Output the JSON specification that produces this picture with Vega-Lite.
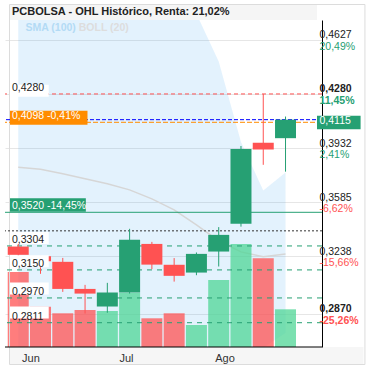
{
  "$schema": "https://vega.github.io/schema/vega-lite/v6.json",
  "width": 317,
  "height": 327,
  "autosize": {"type": "none"},
  "padding": {"left": 5, "top": 20, "right": 54, "bottom": 23},
  "background": "white",
  "config": {
    "view": {"stroke": null},
    "font": "Liberation Sans",
    "locale": {
      "number": {"decimal": ",", "thousands": ".", "grouping": [3], "currency": ["", " €"], "minus": "-"},
      "time": {"dateTime": "%A, %e de %B de %Y, %X", "date": "%d/%m/%Y", "time": "%H:%M:%S", "periods": ["AM", "PM"],
        "days": ["domingo", "lunes", "martes", "miércoles", "jueves", "viernes", "sábado"],
        "shortDays": ["dom", "lun", "mar", "mié", "jue", "vie", "sáb"],
        "months": ["enero", "febrero", "marzo", "abril", "mayo", "junio", "julio", "agosto", "septiembre", "octubre", "noviembre", "diciembre"],
        "shortMonths": ["Ene", "Feb", "Mar", "Abr", "May", "Jun", "Jul", "Ago", "Sep", "Oct", "Nov", "Dic"]}
    }
  },
  "datasets": {
    "candles": [
      {"date": "2020-05-28", "open": 0.3300, "high": 0.3318, "low": 0.3236, "close": 0.3247, "volume": 1500000},
      {"date": "2020-06-04", "open": 0.3238, "high": 0.3240, "low": 0.3125, "close": 0.3205, "volume": 806000},
      {"date": "2020-06-11", "open": 0.3202, "high": 0.3227, "low": 0.3009, "close": 0.3028, "volume": 674000},
      {"date": "2020-06-18", "open": 0.3028, "high": 0.3054, "low": 0.2870, "close": 0.2998, "volume": 740000},
      {"date": "2020-06-25", "open": 0.2915, "high": 0.3067, "low": 0.2875, "close": 0.3005, "volume": 720000},
      {"date": "2020-07-02", "open": 0.3005, "high": 0.3414, "low": 0.2998, "close": 0.3343, "volume": 1086000},
      {"date": "2020-07-09", "open": 0.3317, "high": 0.3330, "low": 0.3155, "close": 0.3184, "volume": 574000},
      {"date": "2020-07-16", "open": 0.3183, "high": 0.3226, "low": 0.3075, "close": 0.3112, "volume": 674000},
      {"date": "2020-07-23", "open": 0.3133, "high": 0.3262, "low": 0.3116, "close": 0.3253, "volume": 440000},
      {"date": "2020-07-30", "open": 0.3268, "high": 0.3425, "low": 0.3172, "close": 0.3375, "volume": 1340000},
      {"date": "2020-08-06", "open": 0.3446, "high": 0.3946, "low": 0.3428, "close": 0.3927, "volume": 2060000},
      {"date": "2020-08-13", "open": 0.3966, "high": 0.4280, "low": 0.3825, "close": 0.3923, "volume": 1774000},
      {"date": "2020-08-20", "open": 0.3996, "high": 0.4135, "low": 0.3781, "close": 0.4115, "volume": 754000}
    ],
    "bands": [
      {"date": "2020-05-28", "upper": 0.520, "lower": 0.215, "sma": 0.3809},
      {"date": "2020-06-04", "upper": 0.516, "lower": 0.218, "sma": 0.3796},
      {"date": "2020-06-11", "upper": 0.512, "lower": 0.222, "sma": 0.3767},
      {"date": "2020-06-18", "upper": 0.508, "lower": 0.226, "sma": 0.3735},
      {"date": "2020-06-25", "upper": 0.504, "lower": 0.230, "sma": 0.3703},
      {"date": "2020-07-02", "upper": 0.501, "lower": 0.234, "sma": 0.3664},
      {"date": "2020-07-09", "upper": 0.497, "lower": 0.238, "sma": 0.3606},
      {"date": "2020-07-16", "upper": 0.491, "lower": 0.242, "sma": 0.3536},
      {"date": "2020-07-23", "upper": 0.4795, "lower": 0.246, "sma": 0.3439},
      {"date": "2020-07-30", "upper": 0.4489, "lower": 0.250, "sma": 0.3337},
      {"date": "2020-08-06", "upper": 0.3972, "lower": 0.256, "sma": 0.3266},
      {"date": "2020-08-13", "upper": 0.3660, "lower": 0.2650, "sma": 0.3234},
      {"date": "2020-08-20", "upper": 0.3775, "lower": 0.2745, "sma": 0.3253}
    ],
    "rightLevels": [
      {"v": 0.4627, "pct": 0.2049},
      {"v": 0.4280, "pct": 0.1145},
      {"v": 0.3932, "pct": 0.0241},
      {"v": 0.3585, "pct": -0.0662},
      {"v": 0.3238, "pct": -0.1566},
      {"v": 0.2870, "pct": -0.2526}
    ],
    "whiteLevels": [
      {"v": 0.4280},
      {"v": 0.3304},
      {"v": 0.3150},
      {"v": 0.2970},
      {"v": 0.2811}
    ],
    "months": [
      {"month": "2020-06-01"},
      {"month": "2020-07-01"},
      {"month": "2020-08-01"}
    ]
  },
  "layer": [
    {
      "data": {"name": "bands"},
      "mark": {"type": "area", "color": "#2196f3", "opacity": 0.125, "clip": true},
      "encoding": {
        "x": {"field": "date", "type": "temporal",
          "scale": {"type": "utc", "domain": [{"year": 2020, "month": 5, "date": 25, "hours": 9, "minutes": 55, "utc": true}, {"year": 2020, "month": 8, "date": 29, "hours": 21, "minutes": 22, "utc": true}]},
          "axis": {"title": null, "orient": "bottom", "values": [{"year": 2020, "month": 6, "date": 1, "utc": true}, {"year": 2020, "month": 7, "date": 1, "utc": true}, {"year": 2020, "month": 8, "date": 1, "utc": true}],
            "labels": false, "ticks": false, "domain": false, "gridColor": "#e6e6e6", "grid": true}},
        "y": {"field": "upper", "type": "quantitative",
          "scale": {"domain": [0.2655, 0.4755], "zero": false, "nice": false},
          "axis": {"title": null, "orient": "right", "offset": 0, "values": [0.4627, 0.428, 0.3932, 0.3585, 0.3238, 0.287],
            "labels": false, "ticks": false, "domainColor": "#000000", "gridColor": "#e6e6e6", "grid": true}},
        "y2": {"field": "lower"}
      }
    },
    {
      "data": {"name": "bands"},
      "mark": {"type": "line", "color": "#d6d6d6", "strokeWidth": 1.5},
      "encoding": {
        "x": {"field": "date", "type": "temporal", "axis": null},
        "y": {"field": "sma", "type": "quantitative", "scale": {"domain": [0.2655, 0.4755], "zero": false, "nice": false}, "axis": null}
      }
    },
    {
      "data": {"name": "candles"},
      "mark": {"type": "bar", "opacity": 0.75},
      "encoding": {
        "x": {"field": "date", "type": "temporal", "axis": null},
        "y": {"field": "volume", "type": "quantitative", "scale": {"domain": [0, 6540000], "nice": false}, "axis": null},
        "size": {"value": 21},
        "color": {"condition": {"test": "datum.close < datum.open", "value": "#ff5252"}, "value": "#4fd596"}
      }
    },
    {
      "data": {"values": [{}]},
      "mark": {"type": "rect", "color": "#f5f5f5"},
      "encoding": {
        "x": {"datum": {"year": 2020, "month": 5, "date": 25, "hours": 9, "minutes": 55, "utc": true}, "type": "temporal", "axis": null},
        "x2": {"datum": {"year": 2020, "month": 8, "date": 29, "hours": 21, "minutes": 22, "utc": true}},
        "y": {"datum": 0.4755, "type": "quantitative", "scale": {"domain": [0.2655, 0.4755], "zero": false, "nice": false}, "axis": null},
        "y2": {"datum": 0.48513}
      }
    },
    {
      "data": {"values": [{}]},
      "mark": {"type": "rect", "color": "#000000", "opacity": 0.035},
      "encoding": {
        "x": {"datum": {"year": 2020, "month": 5, "date": 25, "hours": 9, "minutes": 55, "utc": true}, "type": "temporal", "axis": null},
        "x2": {"datum": {"year": 2020, "month": 9, "date": 13, "hours": 11, "minutes": 58, "utc": true}},
        "y": {"datum": 0.2655, "type": "quantitative", "scale": {"domain": [0.2655, 0.4755], "zero": false, "nice": false}, "axis": null},
        "y2": {"datum": 0.25458}
      }
    },
    {
      "data": {"values": [{}]},
      "mark": {"type": "rect", "filled": false, "stroke": "#dcdcdc", "strokeWidth": 1},
      "encoding": {
        "x": {"datum": {"year": 2020, "month": 5, "date": 25, "hours": 6, "minutes": 16, "utc": true}, "type": "temporal", "axis": null},
        "x2": {"datum": {"year": 2020, "month": 9, "date": 13, "hours": 22, "minutes": 56, "utc": true}},
        "y": {"datum": 0.48545, "type": "quantitative", "scale": {"domain": [0.2655, 0.4755], "zero": false, "nice": false}, "axis": null},
        "y2": {"datum": 0.25426}
      }
    },
    {
      "data": {"values": [{}]},
      "mark": {"type": "rule", "color": "#000000", "strokeWidth": 1},
      "encoding": {
        "y": {"datum": 0.2655, "type": "quantitative", "scale": {"domain": [0.2655, 0.4755], "zero": false, "nice": false}, "axis": null}
      }
    },
    {
      "data": {"name": "months"},
      "mark": {"type": "text", "align": "center", "baseline": "top", "dy": 6, "fontSize": 11, "color": "#333333"},
      "encoding": {
        "x": {"field": "month", "type": "temporal", "axis": null},
        "y": {"datum": 0.2655, "type": "quantitative", "scale": {"domain": [0.2655, 0.4755], "zero": false, "nice": false}, "axis": null},
        "text": {"field": "month", "type": "temporal", "timeUnit": "utcmonth", "format": "%b"}
      }
    },
    {
      "data": {"values": [{"title": "PCBOLSA - OHL Histórico, Renta: 21,02%"}]},
      "mark": {"type": "text", "align": "left", "baseline": "middle", "dx": 2, "fontSize": 11, "fontWeight": "bold", "color": "#222222"},
      "encoding": {
        "x": {"datum": {"year": 2020, "month": 5, "date": 25, "hours": 9, "minutes": 55, "utc": true}, "type": "temporal", "axis": null},
        "y": {"datum": 0.48064, "type": "quantitative", "scale": {"domain": [0.2655, 0.4755], "zero": false, "nice": false}, "axis": null},
        "text": {"field": "title"}
      }
    },
    {
      "data": {"values": [{"v": 0.428}]},
      "mark": {"type": "rule", "color": "#ff5252", "strokeDash": [4, 3], "strokeWidth": 1},
      "encoding": {"y": {"field": "v", "type": "quantitative", "scale": {"domain": [0.2655, 0.4755], "zero": false, "nice": false}, "axis": null}}
    },
    {
      "data": {"values": [{"v": 0.4115}]},
      "mark": {"type": "rule", "color": "#0000ff", "strokeDash": [4, 2], "strokeWidth": 1},
      "encoding": {"y": {"field": "v", "type": "quantitative", "scale": {"domain": [0.2655, 0.4755], "zero": false, "nice": false}, "axis": null}}
    },
    {
      "data": {"values": [{"v": 0.4098}]},
      "mark": {"type": "rule", "color": "#ff8c00", "strokeDash": [5, 2], "strokeWidth": 1},
      "encoding": {"y": {"field": "v", "type": "quantitative", "scale": {"domain": [0.2655, 0.4755], "zero": false, "nice": false}, "axis": null}}
    },
    {
      "data": {"values": [{"v": 0.352}]},
      "mark": {"type": "rule", "color": "#26a073", "strokeWidth": 1},
      "encoding": {"y": {"field": "v", "type": "quantitative", "scale": {"domain": [0.2655, 0.4755], "zero": false, "nice": false}, "axis": null}}
    },
    {
      "data": {"values": [{"v": 0.3401}]},
      "mark": {"type": "rule", "color": "#333333", "strokeDash": [2, 2], "strokeWidth": 1},
      "encoding": {"y": {"field": "v", "type": "quantitative", "scale": {"domain": [0.2655, 0.4755], "zero": false, "nice": false}, "axis": null}}
    },
    {
      "data": {"values": [{"v": 0.3304}, {"v": 0.315}, {"v": 0.297}, {"v": 0.2811}]},
      "mark": {"type": "rule", "color": "#26a073", "strokeDash": [5, 5], "strokeWidth": 1},
      "encoding": {"y": {"field": "v", "type": "quantitative", "scale": {"domain": [0.2655, 0.4755], "zero": false, "nice": false}, "axis": null}}
    },
    {
      "data": {"name": "candles"},
      "mark": {"type": "rule", "strokeWidth": 1},
      "encoding": {
        "x": {"field": "date", "type": "temporal", "axis": null},
        "y": {"field": "low", "type": "quantitative", "scale": {"domain": [0.2655, 0.4755], "zero": false, "nice": false}, "axis": null},
        "y2": {"field": "high"},
        "color": {"condition": {"test": "datum.close < datum.open", "value": "#ff5252"}, "value": "#26a073"}
      }
    },
    {
      "data": {"name": "candles"},
      "mark": {"type": "bar"},
      "encoding": {
        "x": {"field": "date", "type": "temporal", "axis": null},
        "y": {"field": "open", "type": "quantitative", "scale": {"domain": [0.2655, 0.4755], "zero": false, "nice": false}, "axis": null},
        "y2": {"field": "close"},
        "size": {"value": 21},
        "color": {"condition": {"test": "datum.close < datum.open", "value": "#ff5252"}, "value": "#26a073"}
      }
    },
    {
      "data": {"name": "whiteLevels"},
      "mark": {"type": "bar", "color": "#ffffff", "yOffset": -6},
      "encoding": {
        "x": {"datum": {"year": 2020, "month": 5, "date": 25, "hours": 9, "minutes": 55, "utc": true}, "type": "temporal", "axis": null},
        "x2": {"datum": {"year": 2020, "month": 6, "date": 6, "hours": 14, "minutes": 0, "utc": true}},
        "y": {"field": "v", "type": "quantitative", "scale": {"domain": [0.2655, 0.4755], "zero": false, "nice": false}, "axis": null},
        "size": {"value": 12}
      }
    },
    {
      "data": {"name": "whiteLevels"},
      "mark": {"type": "text", "align": "left", "baseline": "middle", "dx": 2, "dy": -6, "fontSize": 10.5, "color": "#222222"},
      "encoding": {
        "x": {"datum": {"year": 2020, "month": 5, "date": 25, "hours": 9, "minutes": 55, "utc": true}, "type": "temporal", "axis": null},
        "y": {"field": "v", "type": "quantitative", "scale": {"domain": [0.2655, 0.4755], "zero": false, "nice": false}, "axis": null},
        "text": {"field": "v", "type": "quantitative", "format": ".4f"}
      }
    },
    {
      "data": {"values": [{"v": 0.4098, "label": "0,4098 -0,41%"}]},
      "mark": {"type": "bar", "color": "#ff8c00", "yOffset": -6.5},
      "encoding": {
        "x": {"datum": {"year": 2020, "month": 5, "date": 25, "hours": 9, "minutes": 55, "utc": true}, "type": "temporal", "axis": null},
        "x2": {"datum": {"year": 2020, "month": 6, "date": 18, "hours": 18, "minutes": 19, "utc": true}},
        "y": {"field": "v", "type": "quantitative", "scale": {"domain": [0.2655, 0.4755], "zero": false, "nice": false}, "axis": null},
        "size": {"value": 14}
      }
    },
    {
      "data": {"values": [{"v": 0.4098, "label": "0,4098 -0,41%"}]},
      "mark": {"type": "text", "align": "left", "baseline": "middle", "dx": 2, "dy": -6.5, "fontSize": 10.5, "color": "#ffffff"},
      "encoding": {
        "x": {"datum": {"year": 2020, "month": 5, "date": 25, "hours": 9, "minutes": 55, "utc": true}, "type": "temporal", "axis": null},
        "y": {"field": "v", "type": "quantitative", "scale": {"domain": [0.2655, 0.4755], "zero": false, "nice": false}, "axis": null},
        "text": {"field": "label"}
      }
    },
    {
      "data": {"values": [{"v": 0.352, "label": "0,3520 -14,45%"}]},
      "mark": {"type": "bar", "color": "#26a073", "yOffset": -6.5},
      "encoding": {
        "x": {"datum": {"year": 2020, "month": 5, "date": 25, "hours": 9, "minutes": 55, "utc": true}, "type": "temporal", "axis": null},
        "x2": {"datum": {"year": 2020, "month": 6, "date": 18, "hours": 5, "minutes": 51, "utc": true}},
        "y": {"field": "v", "type": "quantitative", "scale": {"domain": [0.2655, 0.4755], "zero": false, "nice": false}, "axis": null},
        "size": {"value": 13.5}
      }
    },
    {
      "data": {"values": [{"v": 0.352, "label": "0,3520 -14,45%"}]},
      "mark": {"type": "text", "align": "left", "baseline": "middle", "dx": 2, "dy": -6.5, "fontSize": 10.5, "color": "#ffffff"},
      "encoding": {
        "x": {"datum": {"year": 2020, "month": 5, "date": 25, "hours": 9, "minutes": 55, "utc": true}, "type": "temporal", "axis": null},
        "y": {"field": "v", "type": "quantitative", "scale": {"domain": [0.2655, 0.4755], "zero": false, "nice": false}, "axis": null},
        "text": {"field": "label"}
      }
    },
    {
      "data": {"values": [{"v": 0.4115}]},
      "mark": {"type": "bar", "color": "#26a073", "yOffset": 1},
      "encoding": {
        "x": {"datum": {"year": 2020, "month": 8, "date": 29, "hours": 21, "minutes": 22, "utc": true}, "type": "temporal", "axis": null},
        "x2": {"datum": {"year": 2020, "month": 9, "date": 12, "hours": 14, "minutes": 10, "utc": true}},
        "y": {"field": "v", "type": "quantitative", "scale": {"domain": [0.2655, 0.4755], "zero": false, "nice": false}, "axis": null},
        "size": {"value": 13.5}
      }
    },
    {
      "data": {"values": [{"v": 0.4115}]},
      "mark": {"type": "text", "align": "left", "baseline": "middle", "dx": 2.5, "dy": 1, "fontSize": 10.5, "color": "#ffffff"},
      "encoding": {
        "x": {"datum": {"year": 2020, "month": 8, "date": 29, "hours": 21, "minutes": 22, "utc": true}, "type": "temporal", "axis": null},
        "y": {"field": "v", "type": "quantitative", "scale": {"domain": [0.2655, 0.4755], "zero": false, "nice": false}, "axis": null},
        "text": {"field": "v", "type": "quantitative", "format": ".4f"}
      }
    },
    {
      "data": {"name": "rightLevels"},
      "mark": {"type": "text", "align": "left", "baseline": "alphabetic", "dx": 2.5, "dy": -1.5, "fontSize": 10.5, "color": "#222222",
        "fontWeight": {"expr": "datum.v == 0.428 || datum.v == 0.287 ? 'bold' : 'normal'"}},
      "encoding": {
        "x": {"datum": {"year": 2020, "month": 8, "date": 29, "hours": 21, "minutes": 22, "utc": true}, "type": "temporal", "axis": null},
        "y": {"field": "v", "type": "quantitative", "scale": {"domain": [0.2655, 0.4755], "zero": false, "nice": false}, "axis": null},
        "text": {"field": "v", "type": "quantitative", "format": ".4f"}
      }
    },
    {
      "data": {"name": "rightLevels"},
      "mark": {"type": "text", "align": "left", "baseline": "alphabetic", "dx": 2.5, "dy": 10, "fontSize": 10.5,
        "fontWeight": {"expr": "datum.v == 0.428 || datum.v == 0.287 ? 'bold' : 'normal'"}},
      "encoding": {
        "x": {"datum": {"year": 2020, "month": 8, "date": 29, "hours": 21, "minutes": 22, "utc": true}, "type": "temporal", "axis": null},
        "y": {"field": "v", "type": "quantitative", "scale": {"domain": [0.2655, 0.4755], "zero": false, "nice": false}, "axis": null},
        "text": {"field": "pct", "type": "quantitative", "format": ".2%"},
        "color": {"condition": {"test": "datum.pct < 0", "value": "#ff5252"}, "value": "#26a073"}
      }
    },
    {
      "data": {"values": [{"name": "SMA (100)"}]},
      "mark": {"type": "text", "align": "left", "baseline": "middle", "fontSize": 10.5, "fontWeight": "bold", "color": "#b3dbf5"},
      "encoding": {
        "x": {"datum": {"year": 2020, "month": 5, "date": 30, "hours": 6, "minutes": 48, "utc": true}, "type": "temporal", "axis": null},
        "y": {"datum": 0.47036, "type": "quantitative", "scale": {"domain": [0.2655, 0.4755], "zero": false, "nice": false}, "axis": null},
        "text": {"field": "name"}
      }
    },
    {
      "data": {"values": [{"name": "BOLL (20)"}]},
      "mark": {"type": "text", "align": "left", "baseline": "middle", "fontSize": 10.5, "fontWeight": "bold", "color": "#dddddd"},
      "encoding": {
        "x": {"datum": {"year": 2020, "month": 6, "date": 16, "hours": 0, "minutes": 33, "utc": true}, "type": "temporal", "axis": null},
        "y": {"datum": 0.47036, "type": "quantitative", "scale": {"domain": [0.2655, 0.4755], "zero": false, "nice": false}, "axis": null},
        "text": {"field": "name"}
      }
    }
  ],
  "resolve": {"scale": {"y": "independent"}}
}
